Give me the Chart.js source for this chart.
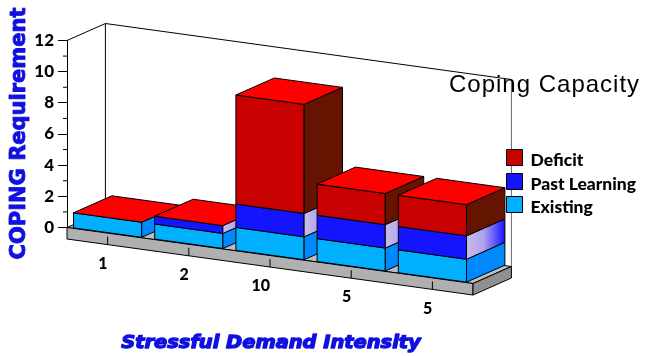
<!DOCTYPE html>
<html>
<head>
<meta charset="utf-8">
<style>
  html, body { margin: 0; padding: 0; background: #fff; }
  #wrap { width: 646px; height: 356px; }
</style>
<script src="https://cdn.jsdelivr.net/npm/chart.js@4"></script>
</head>
<body>
<div id="wrap"><canvas id="chart" width="646" height="356"></canvas></div>
<script>
const categories = ['1', '2', '10', '5', '5'];
const existing = [1, 1, 1.5, 1.5, 1.5];
const pastLearning = [0, 0.5, 1.5, 1.5, 1.5];
const deficit = [0, 0, 7, 2, 2];

// Oblique projection of the category plane
const DEPTH_X = 38.4;
const DEPTH_Y = -17;
const SLOPE = 0.138;
const SLAB = 11.5;

const BLUE_TEXT = '#1010E0';
const FACES = [
  { front: '#00B0FF', side: '#0088FF' },
  { front: '#1414FF', side: null },
  { front: '#C80000', side: '#641400' }
];

function poly(ctx, pts, fill, stroke) {
  ctx.beginPath();
  pts.forEach((p, i) => i ? ctx.lineTo(p[0], p[1]) : ctx.moveTo(p[0], p[1]));
  ctx.closePath();
  if (fill) { ctx.fillStyle = fill; ctx.fill(); }
  if (stroke) { ctx.strokeStyle = stroke; ctx.stroke(); }
}

// Filled and outlined text, for the heavy axis captions
function heavyText(ctx, text, weight) {
  ctx.lineWidth = weight;
  ctx.fillText(text, 0, 0);
  ctx.strokeText(text, 0, 0);
}

const obliqueBars = {
  id: 'obliqueBars',
  beforeDatasetsDraw(chart) {
    const { ctx, chartArea: area, scales } = chart;
    const x0 = area.left;
    const zero = scales.y.getPixelForValue(0);
    const sx = scales.x;
    const xEnd = sx.right;
    const drop = x => (x - x0) * SLOPE;
    const pt = (x, y, d) => [x + d * DEPTH_X, y + drop(x) + d * DEPTH_Y];

    ctx.save();
    ctx.lineWidth = 1;
    ctx.lineJoin = 'round';

    // Back wall outline and the receding edge at the top of the value axis
    const yTop = scales.y.getPixelForValue(12);
    ctx.strokeStyle = '#000';
    ctx.beginPath();
    ctx.moveTo(x0, yTop);
    ctx.lineTo(...pt(x0, yTop, 1));
    ctx.lineTo(...pt(xEnd, yTop, 1));
    ctx.stroke();
    ctx.beginPath();
    ctx.moveTo(...pt(x0, yTop, 1));
    ctx.lineTo(...pt(x0, zero, 1));
    ctx.stroke();
    ctx.strokeStyle = '#666';
    ctx.beginPath();
    ctx.moveTo(...pt(xEnd, yTop, 1));
    ctx.lineTo(...pt(xEnd, zero, 1));
    ctx.stroke();

    // Minor ticks on the value axis
    ctx.strokeStyle = '#000';
    [1, 3, 5, 7, 9, 11].forEach(v => {
      const y = scales.y.getPixelForValue(v);
      ctx.beginPath();
      ctx.moveTo(x0 - 4, y);
      ctx.lineTo(x0, y);
      ctx.stroke();
    });

    // Floor slab
    poly(ctx, [pt(x0, zero, 0), pt(xEnd, zero, 0), pt(xEnd, zero, 1), pt(x0, zero, 1)], '#BCBCBC', '#000');
    poly(ctx, [pt(x0, zero, 0), pt(xEnd, zero, 0), pt(xEnd, zero + SLAB, 0), pt(x0, zero + SLAB, 0)], '#B0B0B0', '#000');
    poly(ctx, [pt(xEnd, zero, 0), pt(xEnd, zero, 1), pt(xEnd, zero + SLAB, 1), pt(xEnd, zero + SLAB, 0)], '#909090', '#000');

    // Category ticks and labels along the slab front
    ctx.font = '900 16px Lato';
    ctx.fillStyle = '#000';
    ctx.textAlign = 'right';
    ctx.textBaseline = 'middle';
    categories.forEach((label, i) => {
      const x = sx.getPixelForValue(i);
      const y = zero + drop(x);
      ctx.beginPath();
      ctx.moveTo(x, y + 3.5);
      ctx.lineTo(x, y + SLAB);
      ctx.stroke();
      ctx.fillText(label, x, y + 30.5);
    });

    // Stacked prisms, nearest the axis first so later bars overlap earlier sides
    const metas = chart.data.datasets.map((_, i) => chart.getDatasetMeta(i));
    categories.forEach((_, i) => {
      let topFace = null;
      metas.forEach((meta, s) => {
        const bar = meta.data[i];
        const value = chart.data.datasets[s].data[i];
        if (!value) return;
        const left = bar.x - bar.width / 2;
        const right = bar.x + bar.width / 2;
        const yLow = bar.base;
        const yHigh = bar.y;
        poly(ctx, [pt(left, yLow, 0), pt(right, yLow, 0), pt(right, yHigh, 0), pt(left, yHigh, 0)], FACES[s].front, '#000');
        let side = FACES[s].side;
        if (!side) {
          side = ctx.createLinearGradient(right, 0, right + DEPTH_X, 0);
          side.addColorStop(0, '#C8BCEA');
          side.addColorStop(0.45, '#AEA2EE');
          side.addColorStop(1, '#1414FF');
        }
        poly(ctx, [pt(right, yLow, 0), pt(right, yLow, 1), pt(right, yHigh, 1), pt(right, yHigh, 0)], side, '#000');
        topFace = [pt(left, yHigh, 0), pt(right, yHigh, 0), pt(right, yHigh, 1), pt(left, yHigh, 1)];
      });
      if (topFace) poly(ctx, topFace, '#FF0000', '#000');
    });

    // Title
    ctx.fillStyle = '#000';
    ctx.textAlign = 'left';
    ctx.textBaseline = 'alphabetic';
    ctx.font = '24px "Liberation Sans"';
    ctx.letterSpacing = '1px';
    ctx.fillText('Coping Capacity', 449, 92);
    ctx.letterSpacing = '0px';

    // Legend, top of the stack first
    ctx.font = '900 17.5px Lato';
    [[2, 150], [1, 174], [0, 197]].forEach(([s, y]) => {
      const ds = chart.data.datasets[s];
      ctx.fillStyle = ds.backgroundColor;
      ctx.strokeStyle = '#000';
      ctx.lineWidth = 1;
      ctx.fillRect(507, y, 16, 16);
      ctx.strokeRect(506.5, y - 0.5, 16, 16);
      ctx.fillStyle = '#000';
      ctx.fillText(ds.label, 530.5, y + 16);
    });

    // Axis captions
    ctx.fillStyle = BLUE_TEXT;
    ctx.strokeStyle = BLUE_TEXT;
    ctx.textAlign = 'center';

    ctx.save();
    ctx.translate(271, 348);
    ctx.scale(1.11, 1);
    ctx.font = 'italic bold 17.5px "DejaVu Sans"';
    heavyText(ctx, 'Stressful Demand Intensity', 1.3);
    ctx.restore();

    ctx.save();
    ctx.translate(24.5, 133.5);
    ctx.rotate(-Math.PI / 2);
    ctx.font = 'bold 21px "DejaVu Sans"';
    heavyText(ctx, 'COPING Requirement', 0.9);
    ctx.restore();

    ctx.restore();
    return false;
  }
};

new Chart(document.getElementById('chart'), {
  type: 'bar',
  data: {
    labels: categories,
    datasets: [
      { label: 'Existing', data: existing, backgroundColor: '#00B0FF' },
      { label: 'Past Learning', data: pastLearning, backgroundColor: '#1414FF' },
      { label: 'Deficit', data: deficit, backgroundColor: '#C80000' }
    ]
  },
  plugins: [obliqueBars],
  options: {
    responsive: false,
    animation: false,
    barPercentage: 0.84,
    categoryPercentage: 1,
    layout: { padding: { top: 40.5, bottom: 128.5, right: 173, left: 0 } },
    plugins: { legend: { display: false }, title: { display: false }, tooltip: { enabled: false } },
    scales: {
      x: { stacked: true, display: false },
      y: {
        stacked: true,
        min: 0,
        max: 12,
        afterFit(scale) { scale.width = 67; },
        border: { color: '#000', width: 1 },
        grid: { drawOnChartArea: false, tickLength: 9, tickColor: '#000' },
        ticks: {
          stepSize: 2,
          padding: 4,
          color: '#000',
          font: { family: 'Lato', weight: '900', size: 17 }
        }
      }
    }
  }
});
</script>
</body>
</html>
